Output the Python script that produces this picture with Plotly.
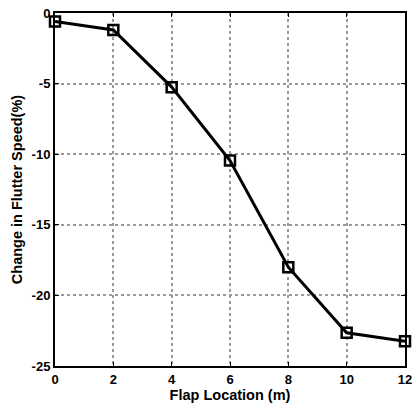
import plotly.graph_objects as go

flap_location = [0, 2, 4, 6, 8, 10, 12]
speed_change = [-0.6, -1.2, -5.25, -10.45, -18.0, -22.65, -23.25]
x_ticks = [0, 2, 4, 6, 8, 10, 12]
y_ticks = [-25, -20, -15, -10, -5, 0]

fig = go.Figure()
fig.add_trace(go.Scatter(
    x=flap_location, y=speed_change, mode="lines+markers",
    line=dict(color="black", width=3),
    marker=dict(symbol="square-open", size=10, color="black", line=dict(width=2.5)),
    showlegend=False, cliponaxis=False,
))

axis_common = dict(
    showline=True, linecolor="black", linewidth=2, mirror="ticks",
    ticks="inside", ticklen=4, tickcolor="black", tickwidth=1,
    showgrid=True, gridcolor="#9a9a9a", gridwidth=1.5, griddash="dot",
    zeroline=False,
    tickfont=dict(family="Liberation Sans", size=13, color="black", weight="bold"),
)

fig.update_xaxes(range=[0, 12], tickvals=x_ticks, ticktext=[str(v) for v in x_ticks],
                 title=dict(text="Flap Location (m)", standoff=2,
                            font=dict(family="Liberation Sans", size=14.5, color="black", weight="bold")),
                 **axis_common)
fig.update_yaxes(range=[-25, 0], tickvals=y_ticks, ticktext=[str(v) for v in y_ticks],
                 title=dict(text="Change in Flutter Speed(%)", standoff=6,
                            font=dict(family="Liberation Sans", size=14.5, color="black", weight="bold")),
                 **axis_common)

fig.update_layout(
    width=418, height=405,
    margin=dict(l=55, r=6, t=12, b=37),
    paper_bgcolor="white", plot_bgcolor="white",
)

fig.write_html("out.html")
